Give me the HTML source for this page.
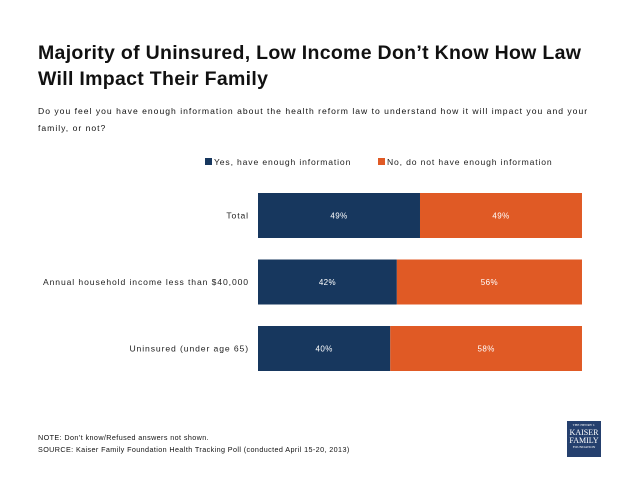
<!DOCTYPE html>
<html><head><meta charset="utf-8"><style>
body{margin:0;background:#fff;font-family:"Liberation Sans",sans-serif;}
#wrap{position:relative;width:638px;height:493px;overflow:hidden;}
.t{position:absolute;white-space:nowrap;}
</style></head><body>
<div id="wrap">
<div class="t" style="left:38px;top:40px;font-size:19.5px;font-weight:bold;color:#111;line-height:26px;letter-spacing:0.3px;">Majority of Uninsured, Low Income Don’t Know How Law<br>Will Impact Their Family</div>
<div class="t" style="left:38px;top:103px;font-size:8.6px;color:#111;line-height:17px;letter-spacing:1px;">Do you feel you have enough information about the health reform law to understand how it will impact you and your<br>family, or not?</div>
<div class="t" style="left:205px;top:157px;font-size:8.6px;color:#222;letter-spacing:0.85px;"><span style="display:inline-block;width:7px;height:7px;background:#17375e;margin-right:2px;"></span>Yes, have enough information</div>
<div class="t" style="left:378px;top:157px;font-size:8.6px;color:#222;letter-spacing:0.85px;"><span style="display:inline-block;width:7px;height:7px;background:#e05a25;margin-right:2px;"></span>No, do not have enough information</div>
<svg id="plot" width="638" height="493" style="position:absolute;left:0;top:0"></svg>
<div class="t" style="left:38px;top:432px;font-size:7.2px;color:#111;line-height:12px;letter-spacing:0.4px;">NOTE: Don’t know/Refused answers not shown.<br>SOURCE: Kaiser Family Foundation Health Tracking Poll (conducted April 15-20, 2013)</div>
<div style="position:absolute;left:567px;top:421px;width:34px;height:36px;background:#25406e;color:#fff;font-family:'Liberation Serif',serif;text-align:center;line-height:1;">
<div style="font-size:3.5px;margin-top:3px;">THE HENRY J.</div>
<div style="font-size:8px;margin-top:1px;">KAISER</div>
<div style="font-size:8px;">FAMILY</div>
<div style="font-size:3.5px;margin-top:1px;">FOUNDATION</div>
</div>
</div>
<script>
const categories=["Total","Annual household income less than $40,000","Uninsured (under age 65)"];
const yesValues=[49,42,40];
const noValues=[49,56,58];
const svg=document.getElementById('plot');
const NS='http://www.w3.org/2000/svg';
const x0=258, pxPer=3.306;
const xs=v=>v*pxPer;
const rowTop=i=>193+i*66.5;
const barH=45;
categories.forEach((c,i)=>{
  const y=rowTop(i);
  const wy=xs(yesValues[i]), wn=xs(noValues[i]);
  const r1=document.createElementNS(NS,'rect');
  r1.setAttribute('x',x0);r1.setAttribute('y',y);r1.setAttribute('width',wy);r1.setAttribute('height',barH);r1.setAttribute('fill','#17375e');
  
  
  svg.appendChild(r1);
  const r2=document.createElementNS(NS,'rect');
  r2.setAttribute('x',x0+wy);r2.setAttribute('y',y);r2.setAttribute('width',wn);r2.setAttribute('height',barH);r2.setAttribute('fill','#e05a25');
  
  
  svg.appendChild(r2);
  const mk=(tx,ty,s,anchor,fill,fs,ls)=>{const t=document.createElementNS(NS,'text');t.setAttribute('x',tx);t.setAttribute('y',ty);t.setAttribute('text-anchor',anchor);t.setAttribute('fill',fill);t.setAttribute('font-size',fs);t.setAttribute('letter-spacing',ls);t.setAttribute('font-family','Liberation Sans, sans-serif');t.textContent=s;return t;};
  const l=mk(249,y+barH/2+3,c,'end','#222',8.6,0.9);
  
  
  svg.appendChild(l);
  const v1=mk(x0+wy/2,y+barH/2+3,yesValues[i]+'%','middle','#fff',8,0.4);
  
  
  svg.appendChild(v1);
  const v2=mk(x0+wy+wn/2,y+barH/2+3,noValues[i]+'%','middle','#fff',8,0.4);
  
  
  svg.appendChild(v2);
});
</script>
</body></html>
